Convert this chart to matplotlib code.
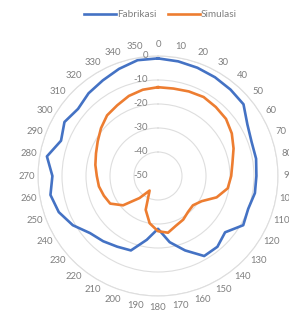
import matplotlib
matplotlib.use("Agg")
import matplotlib.pyplot as plt
import matplotlib.transforms as mtransforms
import numpy as np

# angle categories (degrees) and the two measured patterns (dB)
angles = list(range(0, 360, 10))
fabrikasi = [-1, -1.5, -2, -2.5, -3, -3.5, -7, -8.5, -8.5, -9,
             -9, -10, -9, -13.5, -11.5, -11.5, -17, -22, -28, -23,
             -17, -16, -14.5, -13, -9, -6, -4.5, -6, -3, -7,
             -5, -6.5, -5, -4, -2.5, -1]
simulasi = [-13, -13, -12.5, -12, -12.5, -13, -14.5, -16.5, -18.5, -19.5,
            -20.5, -24, -29, -31, -30.5, -29, -28, -26, -27, -30,
            -35, -43, -38, -31, -27, -26, -25, -24.5, -23.5, -22.5,
            -21, -19, -17, -16, -14.5, -13.5]
r_ticks = [0, -10, -20, -30, -40, -50]

blue = "#4472C4"
orange = "#ED7D31"
grid_c = "#DEDEDE"
text_c = "#7F7F7F"
plt.rcParams['font.family'] = ['Lato', 'DejaVu Sans']

fig = plt.figure(figsize=(2.89, 3.12), dpi=100)
cx, cy, rad = 158 / 289, (312 - 176) / 312, 120
ax = fig.add_axes([cx - rad / 289, cy - rad / 312, 2 * rad / 289, 2 * rad / 312],
                  projection="polar")
ax.set_theta_zero_location("N")
ax.set_theta_direction(-1)
ax.set_rlim(-50, 0)

th = np.deg2rad(angles + [angles[0]])
ax.plot(th, fabrikasi + [fabrikasi[0]], color=blue, lw=1.9, label="Fabrikasi")
ax.plot(th, simulasi + [simulasi[0]], color=orange, lw=1.9, label="Simulasi")

ax.set_rticks(r_ticks)
ax.set_yticklabels([])
ax.set_xticks(np.deg2rad(angles))
ax.set_xticklabels([])
ax.xaxis.grid(False)
ax.yaxis.grid(True, color=grid_c, lw=0.8)
ax.spines["polar"].set_color(grid_c)
ax.spines["polar"].set_linewidth(0.8)
ax.tick_params(length=0)

# category labels around the outside
for a in angles:
    ax.text(np.deg2rad(a), 4.6, str(a), ha="center", va="center",
            fontsize=6.8, color=text_c, clip_on=False)

# value labels left of the 0 degree axis
off = mtransforms.offset_copy(ax.transData, fig=fig, x=-7, y=0, units="points")
for v in r_ticks:
    ax.text(0, v, str(v), ha="right", va="center", fontsize=6.8,
            color=text_c, transform=off)

fig.legend(loc="center", bbox_to_anchor=(0.555, 0.952), ncol=2,
           frameon=False, fontsize=7.2, handlelength=3.2, handletextpad=0.1,
           columnspacing=1.1, labelcolor=text_c)

fig.savefig("out.png", dpi=100)
